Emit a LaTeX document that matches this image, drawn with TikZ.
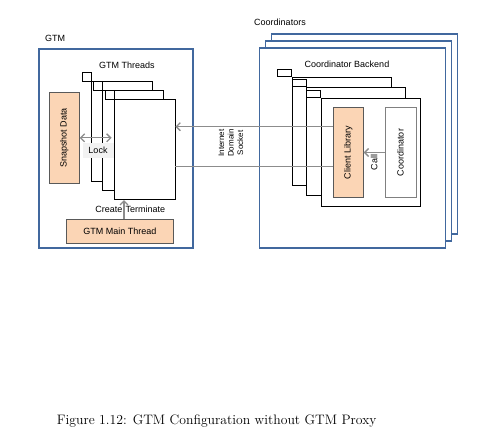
\documentclass[tikz,border=0pt]{standalone}
\usepackage{fontspec}
\setsansfont{Liberation Sans}
\usetikzlibrary{arrows.meta}
\definecolor{gtmblue}{HTML}{41689E}
\definecolor{peach}{HTML}{FBD5B5}
\definecolor{arrowgray}{HTML}{8C8C8C}
\definecolor{lockgray}{HTML}{F2F2F2}

\begin{document}
\begin{tikzpicture}[
            x=1pt, y=-1pt,
            every node/.style={font=\sffamily\fontsize{9}{11}\selectfont, inner sep=1pt},
            frame/.style={draw=gtmblue, line width=1.4pt, fill=white},
            coordframe/.style={frame, minimum width=186pt, minimum height=200pt},
            thread/.style={draw, line width=0.8pt, fill=white, minimum width=61pt, minimum height=100pt},
            threadtab/.style={draw, line width=0.8pt, fill=white, minimum width=9pt, minimum height=9pt, inner sep=0pt, anchor=south east},
            backend/.style={draw, line width=0.8pt, fill=white, minimum width=99pt, minimum height=108pt},
            backendtab/.style={draw, line width=0.8pt, fill=white, minimum width=14pt, minimum height=7pt, inner sep=0pt, anchor=south east},
            peachbox/.style={draw=black!65, line width=0.8pt, fill=peach},
            plainbox/.style={draw=black!50, line width=1pt, fill=white},
            arr/.style={draw=arrowgray, line width=1.3pt, -{Straight Barb[length=4pt,width=8pt]}},
            wire/.style={draw=arrowgray, line width=1.3pt}
        ]
        \useasboundingbox (0,0) rectangle (482,439);

        \node[coordframe] (c3) at (364.7,134) {};
        \node[coordframe] (c2) at (358.7,141) {};
        \node[coordframe] (c1) at (352.7,148) {};
        \node (coordlabel) at (280,22.7) {Coordinators};
        \node (backendlabel) at (347,64) {Coordinator Backend};

        \node[backend] (b1) at (341.5,131) {};
        \node[backendtab] (bt1) at ([xshift=0.5pt]b1.north west) {};
        \node[backend] (b2) at (356,141.5) {};
        \node[backendtab] (bt2) at ([xshift=0.5pt]b2.north west) {};
        \node[backend] (b3) at (370.5,152) {};
        \node[backendtab] (bt3) at ([xshift=0.5pt]b3.north west) {};

        \node[peachbox, minimum width=30pt, minimum height=90pt] (client) at (348.3,152.5) {\rotatebox{90}{Client Library}};
        \node[plainbox, minimum width=31pt, minimum height=90pt] (coord) at (400.5,152.5) {\rotatebox{90}{Coordinator}};
        \draw[arr] (coord.west) -- (client.east)
            node[midway, rotate=90, anchor=east, inner sep=1.5pt] {Call};

        \node[frame, minimum width=154pt, minimum height=199pt] (gtm) at (116,148.5) {};
        \node (gtmlabel) at (55,38) {GTM};
        \node (threadlabel) at (127,65) {GTM Threads};

        \node[thread] (t1) at (121.5,131) {};
        \node[threadtab] (tt1) at ([xshift=1pt,yshift=-1pt]t1.north west) {};
        \node[thread] (t2) at (133,140.3) {};
        \node[threadtab] (tt2) at ([xshift=1pt,yshift=-1pt]t2.north west) {};
        \node[thread] (t3) at (144.5,149.6) {};
        \node[threadtab] (tt3) at ([xshift=1pt,yshift=-1pt]t3.north west) {};

        \node[peachbox, minimum width=30pt, minimum height=91pt] (snap) at (64.3,137.8) {\rotatebox{90}{Snapshot Data}};
        \node[fill=lockgray, minimum width=31pt, minimum height=15pt] (lock) at (98,150.7) {Lock};
        \draw[arr, {Straight Barb[length=4pt,width=8pt]}-{Straight Barb[length=4pt,width=8pt]}, shorten >=2pt] (snap.east) -- (snap.east -| t3.west);

        \node[peachbox, minimum width=106.6pt, minimum height=24pt] (main) at (120,231.3) {GTM Main Thread};
        \coordinate (ct) at ([xshift=4pt]main.north);
        \draw[arr] (ct) -- (ct |- t3.south)
            node[midway, left] {Create}
            node[midway, right] {Terminate};

        \coordinate (s1) at ([yshift=25.8pt]client.west);
        \coordinate (s2) at ([yshift=-14pt]client.west);
        \draw[arr] (s1) -- (s1 -| t3.east);
        \draw[wire] (s2 -| t3.east) -- (s2);
        \node[rotate=90, align=center, font=\sffamily\fontsize{8}{9.5}\selectfont] (socket) at (231,143) {Internet\\Domain\\Socket};

        \node[font=\rmfamily\fontsize{13.7}{16}\selectfont] (caption) at (216.7,421) {Figure 1.12: GTM Configuration without GTM Proxy};
    \end{tikzpicture}
\end{document}
